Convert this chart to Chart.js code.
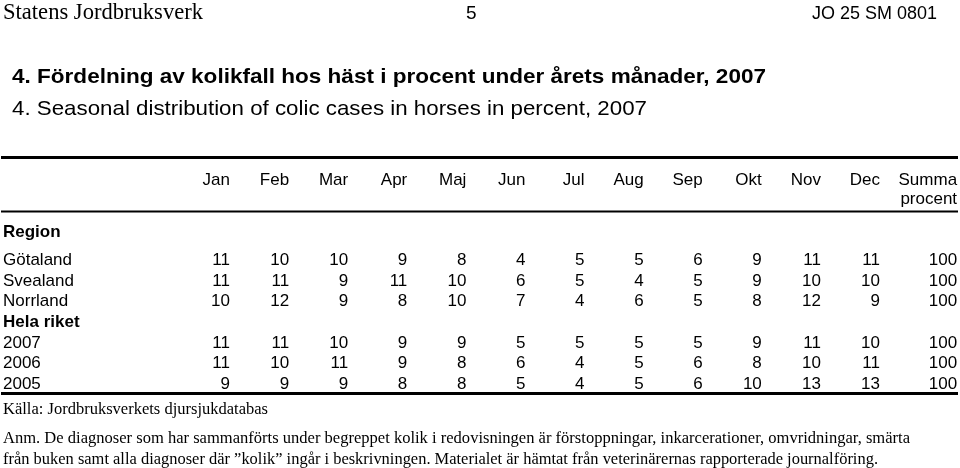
<!DOCTYPE html>
<html><head><meta charset="utf-8">
<script src="https://cdn.jsdelivr.net/npm/chart.js@4.4.1/dist/chart.umd.min.js"></script>
<style>html,body{margin:0;padding:0;background:#fff}#wrap{width:960px;height:468px}</style>
</head><body><div id="wrap"><canvas id="c" width="960" height="468"></canvas></div>
<script>
const columns = ['Jan','Feb','Mar','Apr','Maj','Jun','Jul','Aug','Sep','Okt','Nov','Dec','Summa procent'];
const rowLabels = ['Götaland','Svealand','Norrland','Hela riket','2007','2006','2005'];
const gotaland = [11,10,10,9,8,4,5,5,6,9,11,11,100];
const svealand = [11,11,9,11,10,6,5,4,5,9,10,10,100];
const norrland = [10,12,9,8,10,7,4,6,5,8,12,9,100];
const riket2007 = [11,11,10,9,9,5,5,5,5,9,11,10,100];
const riket2006 = [11,10,11,9,8,6,4,5,6,8,10,11,100];
const riket2005 = [9,9,9,8,8,5,4,5,6,10,13,13,100];
const rows = [
  {label:'Götaland', values:gotaland},
  {label:'Svealand', values:svealand},
  {label:'Norrland', values:norrland},
  {label:'2007', values:riket2007},
  {label:'2006', values:riket2006},
  {label:'2005', values:riket2005}
];
const headerLeft = 'Statens Jordbruksverk';
const headerMid = '5';
const headerRight = 'JO 25 SM 0801';
const titleSv = '4. Fördelning av kolikfall hos häst i procent under årets månader, 2007';
const titleEn = '4. Seasonal distribution of colic cases in horses in percent, 2007';
const regionLabel = 'Region';
const sourceText = 'Källa: Jordbruksverkets djursjukdatabas';
const noteLines = [
  'Anm. De diagnoser som har sammanförts under begreppet kolik i redovisningen är förstoppningar, inkarcerationer, omvridningar, smärta',
  'från buken samt alla diagnoser där ”kolik” ingår i beskrivningen. Materialet är hämtat från veterinärernas rapporterade journalföring.'
];

const SANS = '"Liberation Sans", Arial, sans-serif';
const SERIF = '"Liberation Serif", "Times New Roman", serif';

// draw text at a given font size, squeezed horizontally to the given width
function drawFit(ctx, text, weight, family, size, x, baseline, width){
  ctx.save();
  ctx.font = weight + ' ' + size + 'px ' + family;
  ctx.textAlign = 'left';
  const w = ctx.measureText(text).width;
  ctx.translate(x, baseline);
  ctx.scale(width / w, 1);
  ctx.fillText(text, 0, 0);
  ctx.restore();
}

const tablePlugin = {
  id:'tablePlugin',
  beforeDraw(chart){
    const c = chart.ctx;
    c.save(); c.fillStyle = '#fff'; c.fillRect(0,0,chart.width,chart.height); c.restore();
  },
  afterDraw(chart){
    const c = chart.ctx;
    const xs = chart.scales.x, ys = chart.scales.y;
    const summaShift = 18;
    const colX = i => xs.getPixelForValue(i) + (i === columns.length - 1 ? summaShift : 0);
    c.save();
    c.fillStyle = '#000';
    c.textBaseline = 'alphabetic';
    // page header
    drawFit(c, headerLeft, 'normal', SERIF, 24, 3, 19, 200);
    c.font = 'normal 19px ' + SANS; c.textAlign = 'left';
    c.fillText(headerMid, 466, 18.5);
    drawFit(c, headerRight, 'normal', SANS, 18, 812, 18.5, 125);
    // titles
    drawFit(c, titleSv, 'bold', SANS, 21, 12, 83, 754);
    drawFit(c, titleEn, 'normal', SANS, 21, 12, 115, 635);
    // rules
    c.strokeStyle = '#000';
    c.lineWidth = 3;
    c.beginPath(); c.moveTo(1,157.5); c.lineTo(958,157.5); c.stroke();
    c.lineWidth = 2;
    c.beginPath(); c.moveTo(1,211.5); c.lineTo(958,211.5); c.stroke();
    c.lineWidth = 3;
    c.beginPath(); c.moveTo(1,393.5); c.lineTo(958,393.5); c.stroke();
    // column headers
    c.font = 'normal 17px ' + SANS;
    c.textAlign = 'right';
    columns.forEach((lab, i) => {
      const parts = lab.split(' ');
      parts.forEach((p, k) => c.fillText(p, colX(i), 185 + k * 18.5));
    });
    // Region label
    c.textAlign = 'left';
    c.font = 'bold 17px ' + SANS;
    c.fillText(regionLabel, 3, 237);
    // row labels
    rowLabels.forEach((lab, j) => {
      c.font = (lab === 'Hela riket' ? 'bold' : 'normal') + ' 17px ' + SANS;
      c.textAlign = 'left';
      c.fillText(lab, 3, ys.getPixelForValue(j) + 6);
    });
    // cells
    c.font = 'normal 17px ' + SANS;
    c.textAlign = 'right';
    chart.data.datasets.forEach(ds => {
      ds.data.forEach(pt => {
        const i = columns.indexOf(pt.x), j = rowLabels.indexOf(pt.y);
        c.fillText(String(pt.v), colX(i), ys.getPixelForValue(j) + 6);
      });
    });
    // source and notes
    drawFit(c, sourceText, 'normal', SERIF, 17.5, 3, 413.5, 265);
    drawFit(c, noteLines[0], 'normal', SERIF, 17.5, 3, 442.5, 907);
    drawFit(c, noteLines[1], 'normal', SERIF, 17.5, 3, 464, 875);
    c.restore();
  }
};

new Chart(document.getElementById('c'), {
  type:'scatter',
  data:{
    datasets: rows.map(r => ({
      label: r.label,
      data: r.values.map((v, i) => ({x: columns[i], y: r.label, v: v})),
      pointRadius: 0, pointHoverRadius: 0, showLine: false
    }))
  },
  options:{
    responsive:false, animation:false, events:[],
    layout:{padding:{left:230, right:960 - (230 + 12 * (650 / 11)), top:259, bottom:85}},
    plugins:{legend:{display:false}, tooltip:{enabled:false}},
    scales:{
      x:{type:'category', labels:columns, offset:false, display:false},
      y:{type:'category', labels:rowLabels, offset:false, display:false}
    }
  },
  plugins:[tablePlugin]
});
</script>
</body></html>
